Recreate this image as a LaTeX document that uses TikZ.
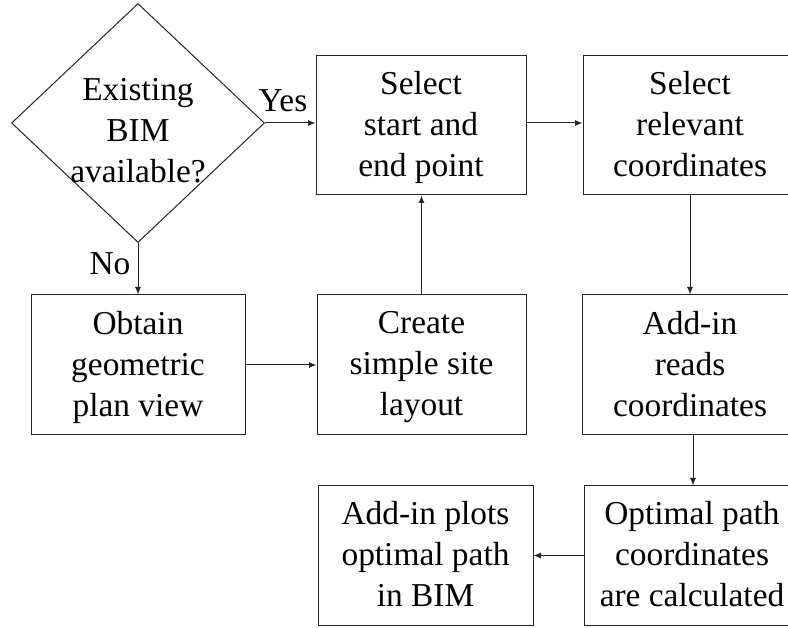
\documentclass[tikz,border=0pt]{standalone}
\usepackage{fontspec}
\setmainfont{Liberation Serif}
\usetikzlibrary{shapes.geometric,arrows.meta}
\begin{document}
\begin{tikzpicture}[x=1pt,y=-1pt,
  every node/.style={font=\fontsize{33.4}{41}\selectfont, text=black},
  stepbox/.style={draw=black!85, line width=1pt, inner sep=0pt, align=center, minimum height=139pt, text depth=3pt},
  decision/.style={diamond, draw=black!85, line width=1pt, inner sep=0pt, minimum width=253pt, minimum height=239pt, aspect=1.06},
  conn/.style={draw=black!85, line width=1pt, -{Latex[length=7.5pt,width=6pt]}},
  lbl/.style={inner sep=0pt}]
\useasboundingbox (0,0) rectangle (788,628);
\node[decision] (d) at (138,123) {};
\node[align=center, inner sep=0pt] (dt) at (138,131) {Existing\\BIM\\available?};
\node[stepbox, minimum width=210pt] (s1) at (421,125.5) {Select\\start and\\end point};
\node[stepbox, minimum width=214pt] (s2) at (690,125.5) {Select\\relevant\\coordinates};
\node[stepbox, minimum width=214pt, minimum height=140pt] (ob) at (138,365) {Obtain\\geometric\\plan view};
\node[stepbox, minimum width=209pt, minimum height=140pt] (cr) at (421.5,365) {Create\\simple site\\layout};
\node[stepbox, minimum width=216pt, minimum height=140pt] (ar) at (690,365) {Add-in\\reads\\coordinates};
\node[stepbox, minimum width=216pt] (op) at (692,555.5) {Optimal path\\coordinates\\are calculated};
\node[stepbox, minimum width=215pt] (ap) at (425.5,555.5) {Add-in plots\\optimal path\\in BIM};
\draw[conn] (d.east) -- (d.east -| s1.west);
\node[lbl] (yes) at (283,101) {Yes};
\draw[conn] (d.south) -- (ob.north);
\node[lbl] (no) at (110,264) {No};
\draw[conn] (ob.east) -- (cr.west);
\draw[conn] (cr.north) -- (cr.north |- s1.south);
\draw[conn] (s1.east |- d.east) -- (s2.west |- d.east);
\draw[conn] (s2.south) -- (ar.north);
\draw[conn] ([xshift=3pt]ar.south) -- ([xshift=3pt]ar.south |- op.north);
\draw[conn] (op.west) -- (op.west -| ap.east);
\end{tikzpicture}
\end{document}
